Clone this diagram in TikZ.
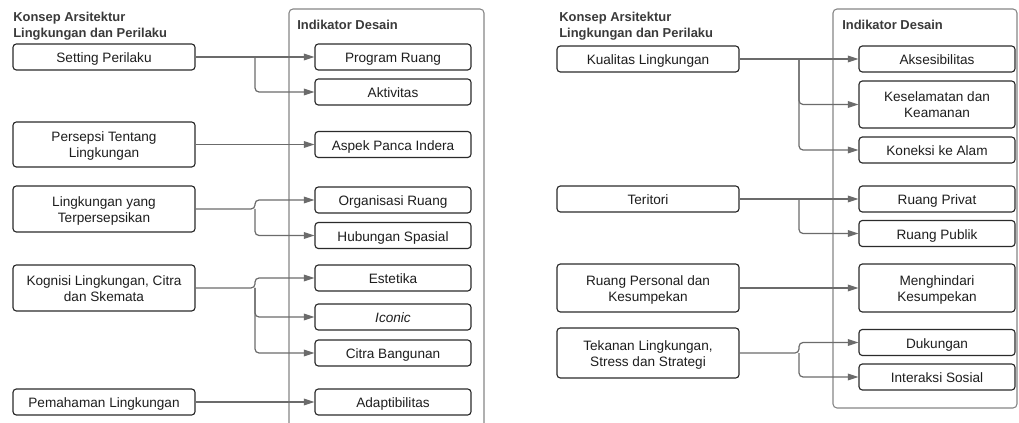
\documentclass[tikz,border=0pt]{standalone}
\usepackage{fontspec}
\setmainfont{Liberation Sans}
\usetikzlibrary{arrows.meta,calc}
\definecolor{boxline}{HTML}{2B2B2B}
\definecolor{connline}{HTML}{6B6B6B}
\definecolor{contline}{HTML}{858585}
\definecolor{txt}{HTML}{1E1E1E}
\definecolor{ttl}{HTML}{3A3A3A}
\tikzset{
  srcbox/.style={draw=boxline, line width=0.85pt, rounded corners=2.5pt, fill=white,
    minimum width=136.5pt, inner sep=0pt, align=center, text=txt,
    font=\fontsize{10.2}{12}\selectfont},
  tgtbox/.style={srcbox, minimum width=117pt},
  h1/.style={minimum height=19.5pt, text height=8.5pt, text depth=0pt},
  two/.style={minimum height=#1, text height=19.6pt, text depth=0pt},
  conn/.style={draw=connline, line width=0.9pt, rounded corners=3pt,
    -{Triangle[length=8pt,width=5pt]}},
  container/.style={draw=contline, line width=0.8pt, rounded corners=3pt},
  ttlnode/.style={anchor=north west, inner sep=0pt, align=left, text=ttl,
    font=\fontsize{9.7}{11.6}\selectfont\bfseries}
}
\begin{document}
\begin{tikzpicture}[x=0.75pt,y=-0.75pt]
\useasboundingbox (0,0) rectangle (1019,423);
% containers
\draw[container] (289,423) -- (289,9) -- (484,9) -- (484,423);
\draw[container] (833,9) rectangle (1017,408);
% titles
\node[ttlnode] (tl) at (13,12) {Konsep Arsitektur\\Lingkungan dan Perilaku};
\node[ttlnode] (il) at (297,20) {Indikator Desain};
\node[ttlnode] (tr) at (559,12) {Konsep Arsitektur\\Lingkungan dan Perilaku};
\node[ttlnode] (ir) at (842,20) {Indikator Desain};
% junction coordinates
\coordinate (jl) at (255,0);
\coordinate (jr) at (799,0);
% left sources
\node[srcbox,h1] (s1) at (104,57) {Setting Perilaku};
\node[srcbox,two=33.75pt] (s2) at (104,144.5) {Persepsi Tentang\\Lingkungan};
\node[srcbox,two=34.5pt] (s3) at (104,209) {Lingkungan yang\\Terpersepsikan};
\node[srcbox,two=34.5pt] (s4) at (104,288) {Kognisi Lingkungan, Citra\\dan Skemata};
\node[srcbox,h1] (s5) at (104,402) {Pemahaman Lingkungan};
% left targets
\node[tgtbox,h1] (t1) at (393,57) {Program Ruang};
\node[tgtbox,h1] (t2) at (393,92) {Aktivitas};
\node[tgtbox,h1] (t3) at (393,144.5) {Aspek Panca Indera};
\node[tgtbox,h1] (t4) at (393,200) {Organisasi Ruang};
\node[tgtbox,h1] (t5) at (393,235.5) {Hubungan Spasial};
\node[tgtbox,h1] (t6) at (393,278) {Estetika};
\node[tgtbox,h1] (t7) at (393,317) {\itshape Iconic};
\node[tgtbox,h1] (t8) at (393,353) {Citra Bangunan};
\node[tgtbox,h1] (t9) at (393,402) {Adaptibilitas};
% right sources
\node[srcbox,h1] (r1) at (648,59) {Kualitas Lingkungan};
\node[srcbox,h1] (r2) at (648,199) {Teritori};
\node[srcbox,two=36pt] (r3) at (648,288) {Ruang Personal dan\\Kesumpekan};
\node[srcbox,two=37.5pt] (r4) at (648,353) {Tekanan Lingkungan,\\Stress dan Strategi};
% right targets
\node[tgtbox,h1] (u1) at (937,59) {Aksesibilitas};
\node[tgtbox,two=35.25pt] (u2) at (937,104.5) {Keselamatan dan\\Keamanan};
\node[tgtbox,h1] (u3) at (937,150) {Koneksi ke Alam};
\node[tgtbox,h1] (u4) at (937,199) {Ruang Privat};
\node[tgtbox,h1] (u5) at (937,233.5) {Ruang Publik};
\node[tgtbox,two=36pt] (u6) at (937,288) {Menghindari\\Kesumpekan};
\node[tgtbox,h1] (u7) at (937,342.5) {Dukungan};
\node[tgtbox,h1] (u8) at (937,377) {Interaksi Sosial};
% left connectors
\draw[conn] (s1.east) -- (t1.west);
\draw[conn] (s1.east -| jl) |- (t2.west);
\draw[conn] (s2.east) -- (s2.east -| t3.west);
\draw[conn] (s3.east) -- (s3.east -| jl) |- (t4.west);
\draw[conn] (s3.east -| jl) |- (t5.west);
\draw[conn] (s4.east) -- (s4.east -| jl) |- (t6.west);
\draw[conn] (s4.east -| jl) |- (t7.west);
\draw[conn] (s4.east -| jl) |- (t8.west);
\draw[conn] (s5.east) -- (t9.west);
% right connectors
\draw[conn] (r1.east) -- (u1.west);
\draw[conn] (r1.east -| jr) |- (u2.west);
\draw[conn] (r1.east -| jr) |- (u3.west);
\draw[conn] (r2.east) -- (u4.west);
\draw[conn] (r2.east -| jr) |- (u5.west);
\draw[conn] (r3.east) -- (u6.west);
\draw[conn] (r4.east) -- (r4.east -| jr) |- (u7.west);
\draw[conn] (r4.east -| jr) |- (u8.west);
\end{tikzpicture}
\end{document}
